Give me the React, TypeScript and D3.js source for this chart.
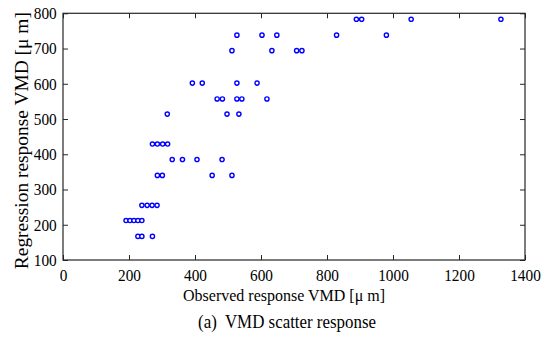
import React, { useEffect, useRef } from 'react';
import * as d3 from 'd3';

// observed VMD (x) and regression VMD (y)
const observed = [
  889, 905, 1055, 1327,
  527, 603, 648, 829, 980,
  512, 633, 708, 724,
  392, 422, 527, 588,
  467, 483, 527, 542, 618,
  316, 497, 533,
  271, 286, 302, 317,
  331, 362, 406, 482,
  286, 301, 452, 512,
  239, 255, 270, 285,
  191, 203, 215, 227, 239,
  227, 239, 271
];
const regression = [
  783, 783, 783, 783,
  738, 738, 738, 738, 738,
  694, 694, 694, 694,
  602, 602, 602, 602,
  557, 557, 557, 557, 557,
  514, 514, 514,
  429, 429, 429, 429,
  385, 385, 385, 385,
  340, 340, 340, 340,
  255, 255, 255, 255,
  212, 212, 212, 212, 212,
  167, 167, 167
];
const xTicks = [0, 200, 400, 600, 800, 1000, 1200, 1400];
const yTicks = [100, 200, 300, 400, 500, 600, 700, 800];

const App = () => {
  const svgRef = useRef<SVGSVGElement>(null);

  useEffect(() => {
    const width = 545;
    const height = 337;
    const margin = { top: 13.3, right: 20, bottom: 77, left: 63 };
    const font = '"Liberation Serif", "Times New Roman", serif';
    const axisColor = '#262626';

    const x = d3.scaleLinear().domain([0, 1400]).range([margin.left, width - margin.right]);
    const y = d3.scaleLinear().domain([100, 800]).range([height - margin.bottom, margin.top]);

    const svg = d3.select(svgRef.current);
    svg.selectAll('*').remove();
    svg.attr('width', width).attr('height', height).attr('viewBox', [0, 0, width, height].join(' '));

    svg.append('rect').attr('width', width).attr('height', height).attr('fill', 'white');

    const [x0, x1] = x.range();
    const [y0, y1] = y.range();
    const tick = 5;

    // bottom axis (ticks inward) + labels
    svg.append('g')
      .attr('transform', `translate(0,${y0})`)
      .call(d3.axisBottom(x).tickValues(xTicks).tickSize(-tick).tickPadding(9).tickFormat(d3.format('d')))
      .call(g => g.select('.domain').remove())
      .call(g => g.selectAll('.tick line').attr('stroke', axisColor))
      .call(g => g.selectAll('.tick text')
        .attr('font-family', font).attr('font-size', 17).attr('fill', '#000')
        .attr('transform', 'scale(0.9,1)'));

    // top ticks
    svg.append('g')
      .attr('transform', `translate(0,${y1})`)
      .call(d3.axisTop(x).tickValues(xTicks).tickSize(-tick).tickFormat(() => ''))
      .call(g => g.select('.domain').remove())
      .call(g => g.selectAll('.tick line').attr('stroke', axisColor));

    // left axis
    svg.append('g')
      .attr('transform', `translate(${x0},0)`)
      .call(d3.axisLeft(y).tickValues(yTicks).tickSize(-tick).tickPadding(7).tickFormat(d3.format('d')))
      .call(g => g.select('.domain').remove())
      .call(g => g.selectAll('.tick line').attr('stroke', axisColor))
      .call(g => g.selectAll('.tick text')
        .attr('font-family', font).attr('font-size', 17).attr('fill', '#000')
        .attr('transform', 'scale(0.9,1)'));

    // right ticks
    svg.append('g')
      .attr('transform', `translate(${x1},0)`)
      .call(d3.axisRight(y).tickValues(yTicks).tickSize(-tick).tickFormat(() => ''))
      .call(g => g.select('.domain').remove())
      .call(g => g.selectAll('.tick line').attr('stroke', axisColor));

    // box
    svg.append('rect')
      .attr('x', x0).attr('y', y1)
      .attr('width', x1 - x0).attr('height', y0 - y1)
      .attr('fill', 'none').attr('stroke', axisColor).attr('stroke-width', 1.2);

    // points
    svg.append('g')
      .selectAll('circle')
      .data(observed.map((v, i) => [v, regression[i]]))
      .join('circle')
      .attr('cx', d => x(d[0]))
      .attr('cy', d => y(d[1]))
      .attr('r', 2.1)
      .attr('fill', 'white')
      .attr('stroke', '#0000ff')
      .attr('stroke-width', 1.4);

    // axis labels
    svg.append('text')
      .attr('x', 284)
      .attr('y', 301)
      .attr('text-anchor', 'middle')
      .attr('font-family', font)
      .attr('font-size', 17.5)
      .attr('textLength', 202)
      .attr('lengthAdjust', 'spacingAndGlyphs')
      .text('Observed response VMD [μ m]');

    svg.append('text')
      .attr('transform', `translate(28,${(y0 + y1) / 2 + 4}) rotate(-90)`)
      .attr('text-anchor', 'middle')
      .attr('font-family', font)
      .attr('font-size', 19)
      .attr('textLength', 257)
      .attr('lengthAdjust', 'spacingAndGlyphs')
      .text('Regression response VMD [μ m]');

    svg.append('text')
      .attr('x', 287)
      .attr('y', 328)
      .attr('text-anchor', 'middle')
      .attr('font-family', font)
      .attr('font-size', 18.5)
      .attr('textLength', 178)
      .attr('lengthAdjust', 'spacingAndGlyphs')
      .attr('xml:space', 'preserve')
      .text('(a)  VMD scatter response');
  }, []);

  return <svg ref={svgRef} style={{ position: 'absolute', left: 0, top: 0 }}></svg>;
};

export default App;
